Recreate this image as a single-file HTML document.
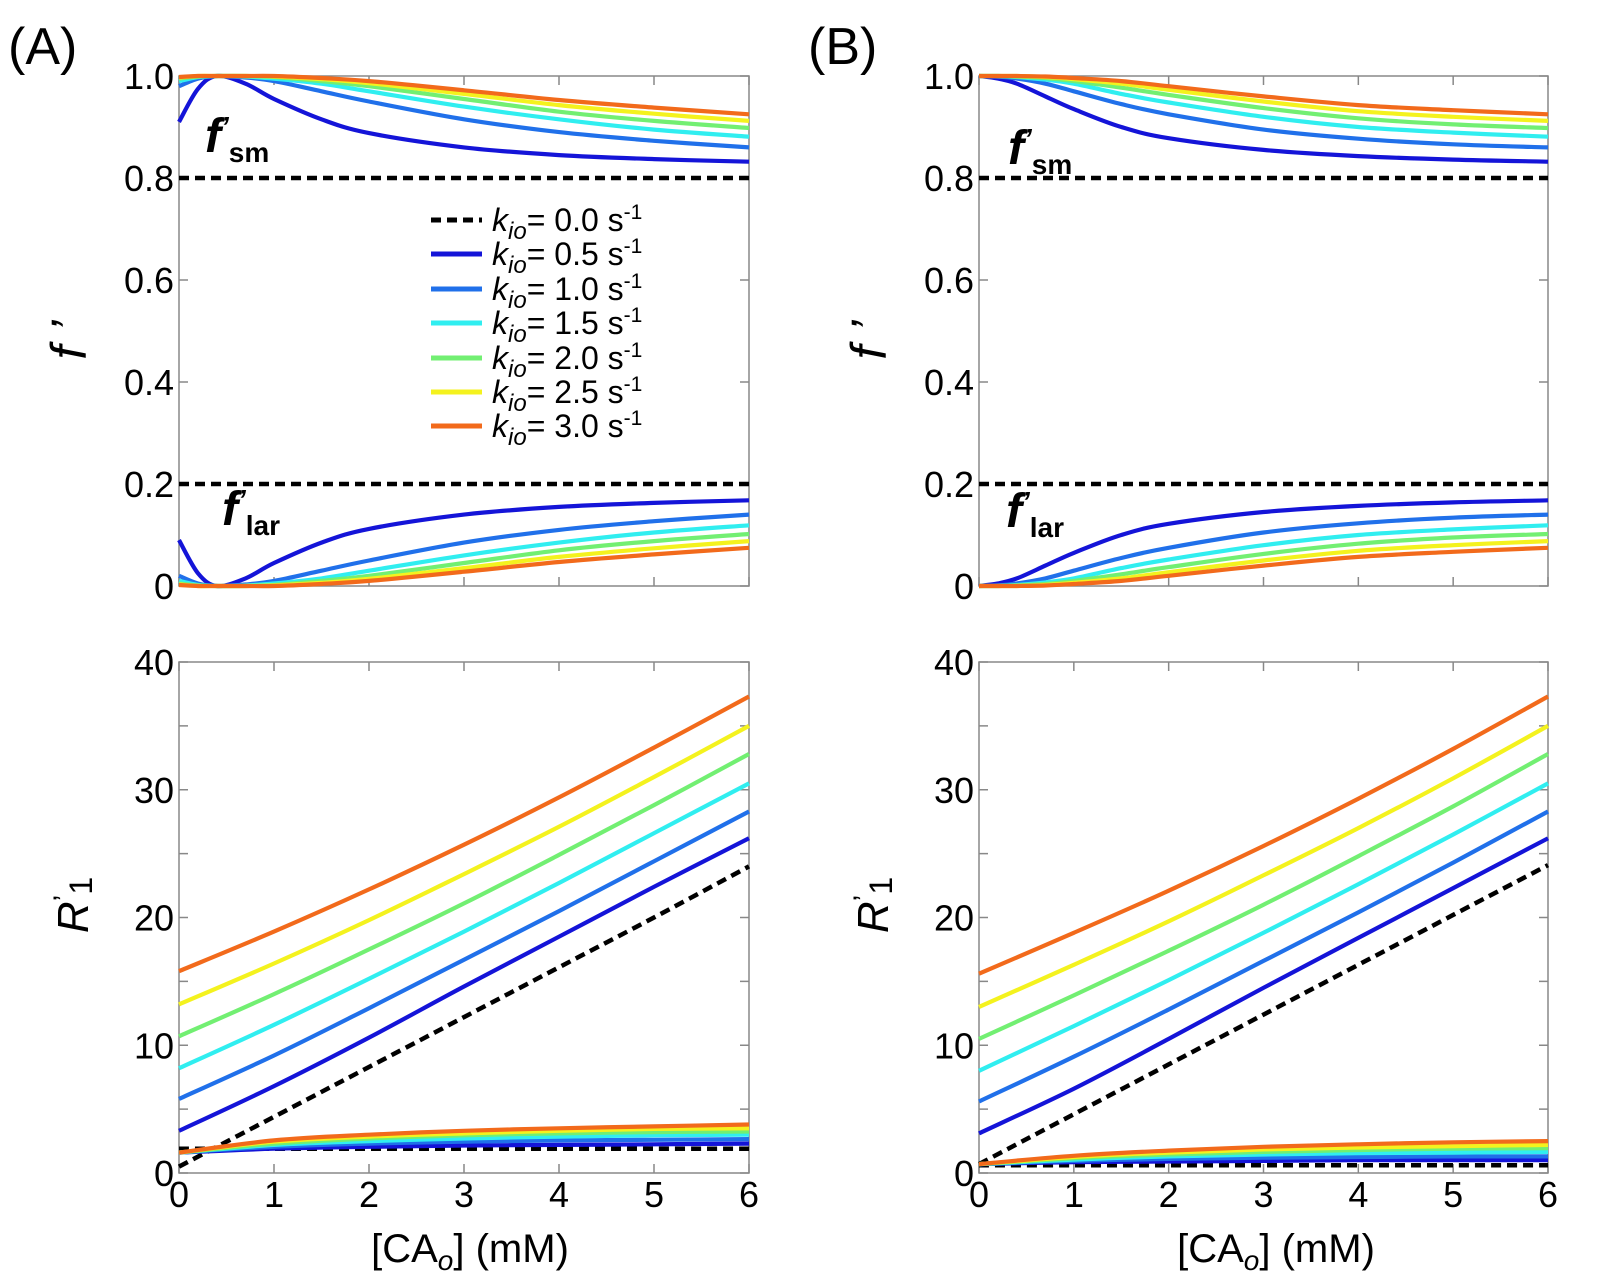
<!DOCTYPE html>
<html><head><meta charset="utf-8"><style>
body{margin:0;background:#fff;}
svg{display:block;font-family:"Liberation Sans",sans-serif;}
text{font-family:"Liberation Sans",sans-serif;}
</style></head><body>
<svg id="fig" width="1600" height="1280" viewBox="0 0 1600 1280"></svg>
<script>
// ---- data ----
const kLabels = ["0.0","0.5","1.0","1.5","2.0","2.5","3.0"];
const colors = ["#000","#1414d8","#2070ea","#30eef0","#72ef72","#f4f21e","#f26a1b"];
const xF = [0,0.2,0.4,0.7,1,1.5,2,3,4,5,6];
const fsmA05 = [0.91,0.975,1.0,0.985,0.955,0.915,0.888,0.86,0.845,0.837,0.832];
const fsmA10 = [0.98,0.995,1.0,0.997,0.99,0.97,0.95,0.915,0.89,0.873,0.86];
const fsmA15 = [0.99,0.998,1.0,0.999,0.995,0.985,0.97,0.94,0.915,0.895,0.881];
const fsmA20 = [0.995,0.999,1,1,0.998,0.99,0.98,0.955,0.93,0.912,0.898];
const fsmA25 = [0.997,1,1,1,0.999,0.994,0.986,0.965,0.943,0.926,0.912];
const fsmA30 = [0.998,1,1,1,1,0.996,0.99,0.972,0.953,0.938,0.925];
const flarA05 = [0.09,0.025,0.0,0.015,0.045,0.085,0.112,0.14,0.155,0.163,0.168];
const flarA10 = [0.02,0.005,0.0,0.003,0.01,0.03,0.05,0.085,0.11,0.127,0.14];
const flarA15 = [0.01,0.002,0.0,0.001,0.005,0.015,0.03,0.06,0.085,0.105,0.119];
const flarA20 = [0.005,0.001,0,0,0.002,0.01,0.02,0.045,0.07,0.088,0.102];
const flarA25 = [0.003,0,0,0,0.001,0.006,0.014,0.035,0.057,0.074,0.088];
const flarA30 = [0.002,0,0,0,0,0.004,0.01,0.028,0.047,0.062,0.075];
const fsmB05 = [1,0.995,0.985,0.96,0.935,0.9,0.878,0.855,0.843,0.836,0.832];
const fsmB10 = [1,0.999,0.995,0.985,0.97,0.945,0.925,0.895,0.877,0.866,0.86];
const fsmB15 = [1,1,0.998,0.993,0.985,0.965,0.948,0.92,0.9,0.889,0.881];
const fsmB20 = [1,1,0.999,0.996,0.99,0.977,0.963,0.937,0.917,0.905,0.898];
const fsmB25 = [1,1,1,0.998,0.994,0.985,0.973,0.95,0.931,0.92,0.912];
const fsmB30 = [1,1,1,0.999,0.996,0.99,0.98,0.96,0.943,0.933,0.925];
const flarB05 = [0,0.005,0.015,0.04,0.065,0.1,0.122,0.145,0.157,0.164,0.168];
const flarB10 = [0,0.001,0.005,0.015,0.03,0.055,0.075,0.105,0.123,0.134,0.14];
const flarB15 = [0,0,0.002,0.007,0.015,0.035,0.052,0.08,0.1,0.111,0.119];
const flarB20 = [0,0,0.001,0.004,0.01,0.023,0.037,0.063,0.083,0.095,0.102];
const flarB25 = [0,0,0,0.002,0.006,0.015,0.027,0.05,0.069,0.08,0.088];
const flarB30 = [0,0,0,0.001,0.004,0.01,0.02,0.04,0.057,0.067,0.075];
const xR = [0,1,2,3,4,5,6];
const rA00 = [0.5,4.4,8.3,12.2,16.1,20,24];
const rA05 = [3.3,6.8,10.6,14.6,18.5,22.4,26.2];
const rA10 = [5.8,9.2,12.9,16.7,20.5,24.4,28.3];
const rA15 = [8.2,11.6,15.2,18.9,22.7,26.6,30.5];
const rA20 = [10.7,14,17.5,21.1,24.9,28.8,32.8];
const rA25 = [13.2,16.4,19.8,23.4,27.1,31,35];
const rA30 = [15.8,18.9,22.2,25.7,29.4,33.3,37.3];
const rAlow00 = [1.9,1.9,1.9,1.9,1.9,1.9,1.9];
const rAlow05 = [1.6,1.9,2.05,2.15,2.2,2.25,2.3];
const rAlow10 = [1.6,2.05,2.3,2.45,2.55,2.6,2.65];
const rAlow15 = [1.6,2.2,2.5,2.7,2.85,2.95,3.0];
const rAlow20 = [1.6,2.3,2.7,2.95,3.1,3.2,3.25];
const rAlow25 = [1.6,2.45,2.85,3.1,3.3,3.45,3.5];
const rAlow30 = [1.6,2.55,3.0,3.3,3.5,3.65,3.8];
const rB00 = [0.7,4.6,8.5,12.4,16.3,20.2,24.1];
const rB05 = [3.1,6.6,10.5,14.5,18.4,22.3,26.2];
const rB10 = [5.6,9.1,12.8,16.6,20.4,24.3,28.3];
const rB15 = [8.0,11.5,15.1,18.8,22.6,26.5,30.5];
const rB20 = [10.5,13.9,17.4,21.0,24.8,28.7,32.8];
const rB25 = [13.0,16.3,19.7,23.3,27.0,30.9,35.0];
const rB30 = [15.6,18.8,22.1,25.6,29.3,33.2,37.3];
const rBlow00 = [0.6,0.6,0.6,0.6,0.6,0.6,0.6];
const rBlow05 = [0.7,0.85,0.9,0.95,1.0,1.0,1.0];
const rBlow10 = [0.7,0.95,1.1,1.2,1.25,1.3,1.3];
const rBlow15 = [0.7,1.05,1.3,1.45,1.55,1.6,1.65];
const rBlow20 = [0.7,1.15,1.45,1.65,1.8,1.9,1.95];
const rBlow25 = [0.7,1.25,1.6,1.85,2.0,2.1,2.2];
const rBlow30 = [0.7,1.35,1.75,2.05,2.25,2.4,2.5];
const fTicks = ["0","0.2","0.4","0.6","0.8","1.0"];
const rTicks = ["0","10","20","30","40"];
const xTicks = ["0","1","2","3","4","5","6"];

// ---- drawing ----
const NS="http://www.w3.org/2000/svg";
const svg=document.getElementById('fig');
function mk(tag,attrs,parent){const e=document.createElementNS(NS,tag);for(const k in attrs)e.setAttribute(k,attrs[k]);(parent||svg).appendChild(e);return e;}
function scaleX(p,v){return p.x0+(v-0)/(6-0)*(p.x1-p.x0);}
function scaleY(p,v){return p.y1-(v-p.ymin)/(p.ymax-p.ymin)*(p.y1-p.y0);}
function pathD(p,xs,ys){
  const pts=xs.map((x,i)=>[scaleX(p,x),scaleY(p,ys[i])]);
  let d="M"+pts[0][0].toFixed(1)+","+pts[0][1].toFixed(1);
  for(let i=0;i<pts.length-1;i++){
    const p0=pts[Math.max(0,i-1)],p1=pts[i],p2=pts[i+1],p3=pts[Math.min(pts.length-1,i+2)];
    const c1=[p1[0]+(p2[0]-p0[0])/6,p1[1]+(p2[1]-p0[1])/6];
    const c2=[p2[0]-(p3[0]-p1[0])/6,p2[1]-(p3[1]-p1[1])/6];
    d+=" C"+c1[0].toFixed(1)+","+c1[1].toFixed(1)+" "+c2[0].toFixed(1)+","+c2[1].toFixed(1)+" "+p2[0].toFixed(1)+","+p2[1].toFixed(1);
  }
  return d;
}
function series(p,g,xs,ys,ci,name){
  const e=mk('path',{d:pathD(p,xs,ys),fill:'none',stroke:colors[ci],'stroke-width':ci===0?4.5:4.2,'stroke-dasharray':ci===0?'10,6':'none','stroke-linejoin':'round'},g);
  
  
}
function hline(p,g,v,name){
  const e=mk('line',{x1:p.x0,x2:p.x1,y1:scaleY(p,v),y2:scaleY(p,v),stroke:'#000','stroke-width':4.5,'stroke-dasharray':'10,6'},g);
  
  
}
function axes(p,name,yvals,ylabels,showX,minorStep){
  const g=mk('g',{});
  
  
  mk('rect',{x:p.x0,y:p.y0,width:p.x1-p.x0,height:p.y1-p.y0,fill:'none',stroke:'#888','stroke-width':1.5},g);
  for(let i=0;i<=6;i++){const x=scaleX(p,i);
    mk('line',{x1:x,x2:x,y1:p.y1,y2:p.y1-9,stroke:'#888','stroke-width':1.5},g);
    mk('line',{x1:x,x2:x,y1:p.y0,y2:p.y0+9,stroke:'#888','stroke-width':1.5},g);
    if(showX){const t=mk('text',{x:x,y:p.y1+34,'font-size':36,'text-anchor':'middle',fill:'#000'},g);t.textContent=xTicks[i];
      
      }
  }
  for(let v=p.ymin;v<=p.ymax+1e-9;v+=minorStep){const y=scaleY(p,v);
    mk('line',{x1:p.x0,x2:p.x0+9,y1:y,y2:y,stroke:'#888','stroke-width':1.5},g);
    mk('line',{x1:p.x1,x2:p.x1-9,y1:y,y2:y,stroke:'#888','stroke-width':1.5},g);}
  yvals.forEach((v,i)=>{const t=mk('text',{x:p.x0-5,y:scaleY(p,v)+13,'font-size':36,'text-anchor':'end',fill:'#000'},g);t.textContent=ylabels[i];
    
    });
  return g;
}
const TA={x0:179,x1:749,y0:76,y1:586,ymin:0,ymax:1};
const TB={x0:979,x1:1548,y0:76,y1:586,ymin:0,ymax:1};
const BA={x0:179,x1:749,y0:662,y1:1173,ymin:0,ymax:40};
const BB={x0:979,x1:1548,y0:662,y1:1173,ymin:0,ymax:40};
const fVals=[0,0.2,0.4,0.6,0.8,1.0], rVals=[0,10,20,30,40];

const fsmA=[fsmA05,fsmA10,fsmA15,fsmA20,fsmA25,fsmA30], flarA=[flarA05,flarA10,flarA15,flarA20,flarA25,flarA30];
const fsmB=[fsmB05,fsmB10,fsmB15,fsmB20,fsmB25,fsmB30], flarB=[flarB05,flarB10,flarB15,flarB20,flarB25,flarB30];
const rA=[rA05,rA10,rA15,rA20,rA25,rA30], rAl=[rAlow05,rAlow10,rAlow15,rAlow20,rAlow25,rAlow30];
const rB=[rB05,rB10,rB15,rB20,rB25,rB30], rBl=[rBlow05,rBlow10,rBlow15,rBlow20,rBlow25,rBlow30];

[[TA,'panel-a-top',fsmA,flarA],[TB,'panel-b-top',fsmB,flarB]].forEach(([p,n,sm,lar])=>{
  const g=axes(p,n,fVals,fTicks,false,0.2);
  hline(p,g,0.8,'f-sm-baseline');hline(p,g,0.2,'f-lar-baseline');
  sm.forEach((s,i)=>series(p,g,xF,s,i+1,'f-sm-line-k'+kLabels[i+1]));
  lar.forEach((s,i)=>series(p,g,xF,s,i+1,'f-lar-line-k'+kLabels[i+1]));
});
[[BA,'panel-a-bottom',rA00,rAlow00,rA,rAl],[BB,'panel-b-bottom',rB00,rBlow00,rB,rBl]].forEach(([p,n,d0,dl,up,lo])=>{
  const g=axes(p,n,rVals,rTicks,true,5);
  series(p,g,xR,d0,0,'r1-line-k0.0');series(p,g,xR,dl,0,'r1-low-line-k0.0');
  lo.forEach((s,i)=>series(p,g,xR,s,i+1,'r1-low-line-k'+kLabels[i+1]));
  up.forEach((s,i)=>series(p,g,xR,s,i+1,'r1-line-k'+kLabels[i+1]));
});
// legend
const lg=mk('g',{});


const legY=[220,254,289,323,358,392,426];
kLabels.forEach((k,i)=>{
  const l=mk('line',{x1:431,x2:482,y1:legY[i],y2:legY[i],stroke:colors[i],'stroke-width':5,'stroke-dasharray':i===0?'10,6':'none'},lg);
  
  
  const t=mk('text',{x:492,y:legY[i]+11,'font-size':32,fill:'#000'},lg);
  t.innerHTML='<tspan font-style="italic">k</tspan><tspan font-style="italic" font-size="24" dy="8">io</tspan><tspan dy="-8">= '+k+' s</tspan><tspan font-size="21" dy="-12">-1</tspan>';
  
  
});
</script>
<svg width="1600" height="1280" style="position:absolute;left:0;top:0">
<text x="8" y="64" font-size="52">(A)</text>
<text x="808" y="64" font-size="52">(B)</text>
<text x="205" y="152" font-size="48" font-weight="bold" font-style="italic">f<tspan font-size="28" dy="-16">’</tspan><tspan font-size="28" font-style="normal" dy="26">sm</tspan></text>
<text x="1008" y="164" font-size="48" font-weight="bold" font-style="italic">f<tspan font-size="28" dy="-16">’</tspan><tspan font-size="28" font-style="normal" dy="26">sm</tspan></text>
<text x="222" y="525" font-size="48" font-weight="bold" font-style="italic">f<tspan font-size="28" dy="-16">’</tspan><tspan font-size="28" font-style="normal" dy="26">lar</tspan></text>
<text x="1006" y="527" font-size="48" font-weight="bold" font-style="italic">f<tspan font-size="28" dy="-16">’</tspan><tspan font-size="28" font-style="normal" dy="26">lar</tspan></text>
<text transform="translate(86,340) rotate(-90)" font-size="50" font-style="italic" text-anchor="middle">f ’</text>
<text transform="translate(886,340) rotate(-90)" font-size="50" font-style="italic" text-anchor="middle">f ’</text>
<text transform="translate(88,905) rotate(-90)" font-size="44" text-anchor="middle"><tspan font-style="italic">R</tspan><tspan font-size="30" dy="-14">’</tspan><tspan font-size="32" dy="18">1</tspan></text>
<text transform="translate(888,905) rotate(-90)" font-size="44" text-anchor="middle"><tspan font-style="italic">R</tspan><tspan font-size="30" dy="-14">’</tspan><tspan font-size="32" dy="18">1</tspan></text>
<text x="470" y="1262" font-size="40" text-anchor="middle">[CA<tspan font-size="28" font-style="italic" dy="8">o</tspan><tspan dy="-8">] (mM)</tspan></text>
<text x="1276" y="1262" font-size="40" text-anchor="middle">[CA<tspan font-size="28" font-style="italic" dy="8">o</tspan><tspan dy="-8">] (mM)</tspan></text>
</svg>
</body></html>
